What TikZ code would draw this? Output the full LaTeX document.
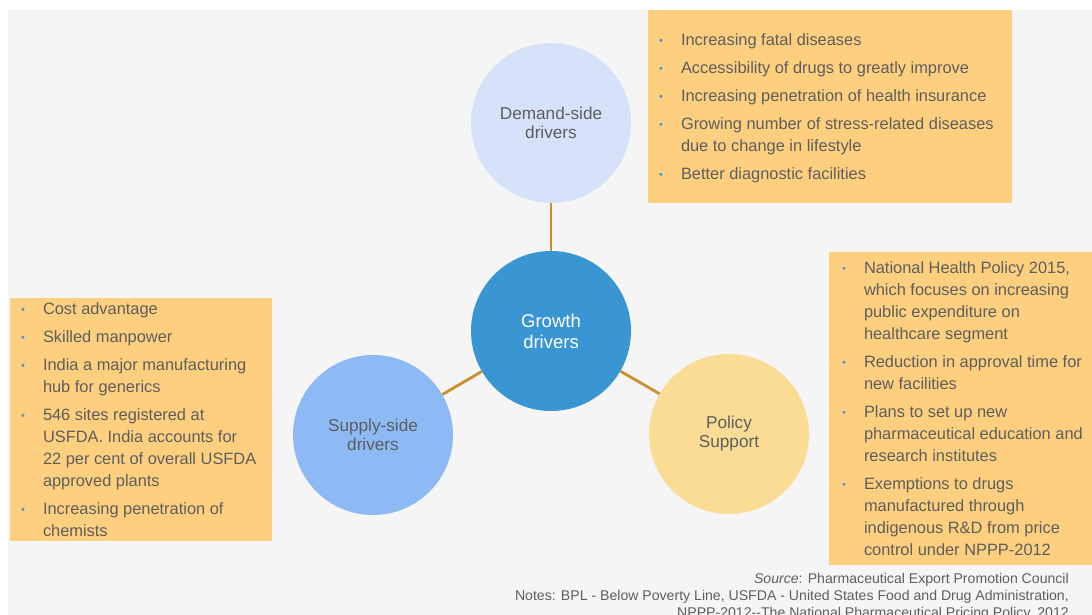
\documentclass[tikz,border=0pt]{standalone}
\usepackage{fontspec}
\setmainfont{Liberation Sans}
\usepackage{xcolor}
\usetikzlibrary{positioning}
\definecolor{panel}{HTML}{F5F5F5}
\definecolor{boxfill}{HTML}{FECF7E}
\definecolor{growthblue}{HTML}{3A96D2}
\definecolor{supplyblue}{HTML}{8DB9F4}
\definecolor{demandblue}{HTML}{D6E2FA}
\definecolor{policyyellow}{HTML}{FBDC95}
\definecolor{linkgold}{HTML}{C8912C}
\definecolor{bulblue}{HTML}{4B9BD2}
\definecolor{txtgray}{HTML}{5E5E5E}
\newcommand{\bul}{\makebox[22pt][l]{\raisebox{1pt}{\textcolor{bulblue}{\fontsize{11}{11}\selectfont\textbullet}}}}
\newcommand{\cont}{\hspace*{22pt}}

\begin{document}
\begin{tikzpicture}[x=1pt,y=-1pt,
circ/.style={circle,minimum size=160pt,inner sep=0pt,align=center,text=txtgray,font=\fontsize{17.2}{19}\selectfont},
listbox/.style={fill=boxfill,inner sep=0pt},
listtext/.style={anchor=west,inner sep=0pt,align=left,text=txtgray,font=\fontsize{16.4}{22}\selectfont},
link/.style={draw=linkgold,line width=2.8pt},
note/.style={anchor=base east,inner sep=0pt,text=txtgray,font=\fontsize{14.1}{16}\selectfont}
]
\clip (0,0) rectangle (1092,615);
\fill[white] (0,0) rectangle (1092,615);
\fill[panel] (8,10) rectangle (1092,615);

\node[circ,fill=demandblue] (demand) at (551,123) {Demand-side\\drivers};
\node[circ,fill=growthblue,text=white,font=\fontsize{18.5}{21}\selectfont] (growth) at (551,331) {Growth\\drivers};
\node[circ,fill=supplyblue] (supply) at (373,435) {Supply-side\\drivers};
\node[circ,fill=policyyellow] (policy) at (729,434) {Policy\\Support};
\draw[link] (growth) -- (demand);
\draw[link] (growth) -- (supply);
\draw[link] (growth) -- (policy);

\node[listbox,minimum width=364pt,minimum height=193pt] (demandbox) at (830,106.5) {};
\node[listtext] (demandlist) at ([xshift=11pt,yshift=-1.5pt]demandbox.west) {%
\bul Increasing fatal diseases\\[6pt]
\bul Accessibility of drugs to greatly improve\\[6pt]
\bul Increasing penetration of health insurance\\[6pt]
\bul Growing number of stress-related diseases\\
\cont due to change in lifestyle\\[6pt]
\bul Better diagnostic facilities};

\node[listbox,minimum width=262pt,minimum height=243pt] (supplybox) at (141,419.5) {};
\node[listtext] (supplylist) at ([xshift=11pt]supplybox.west) {%
\bul Cost advantage\\[6pt]
\bul Skilled manpower\\[6pt]
\bul India a major manufacturing\\
\cont hub for generics\\[6pt]
\bul 546 sites registered at\\
\cont USFDA. India accounts for\\
\cont 22 per cent of overall USFDA\\
\cont approved plants\\[6pt]
\bul Increasing penetration of\\
\cont chemists};

\node[listbox,minimum width=263pt,minimum height=313pt] (policybox) at (960.5,408.5) {};
\node[listtext] (policylist) at ([xshift=13pt]policybox.west) {%
\bul National Health Policy 2015,\\
\cont which focuses on increasing\\
\cont public expenditure on\\
\cont healthcare segment\\[6pt]
\bul Reduction in approval time for\\
\cont new facilities\\[6pt]
\bul Plans to set up new\\
\cont pharmaceutical education and\\
\cont research institutes\\[6pt]
\bul Exemptions to drugs\\
\cont manufactured through\\
\cont indigenous R\&D from price\\
\cont control under NPPP-2012};

\node[note] (source) at (1069,583) {\textit{Source}: Pharmaceutical Export Promotion Council};
\node[note] (notes) at (1069,600) {Notes: BPL - Below Poverty Line, USFDA - United States Food and Drug Administration,};
\node[note] (nppp) at (1069,617) {NPPP-2012{-}{-}The National Pharmaceutical Pricing Policy, 2012};
\end{tikzpicture}
\end{document}
